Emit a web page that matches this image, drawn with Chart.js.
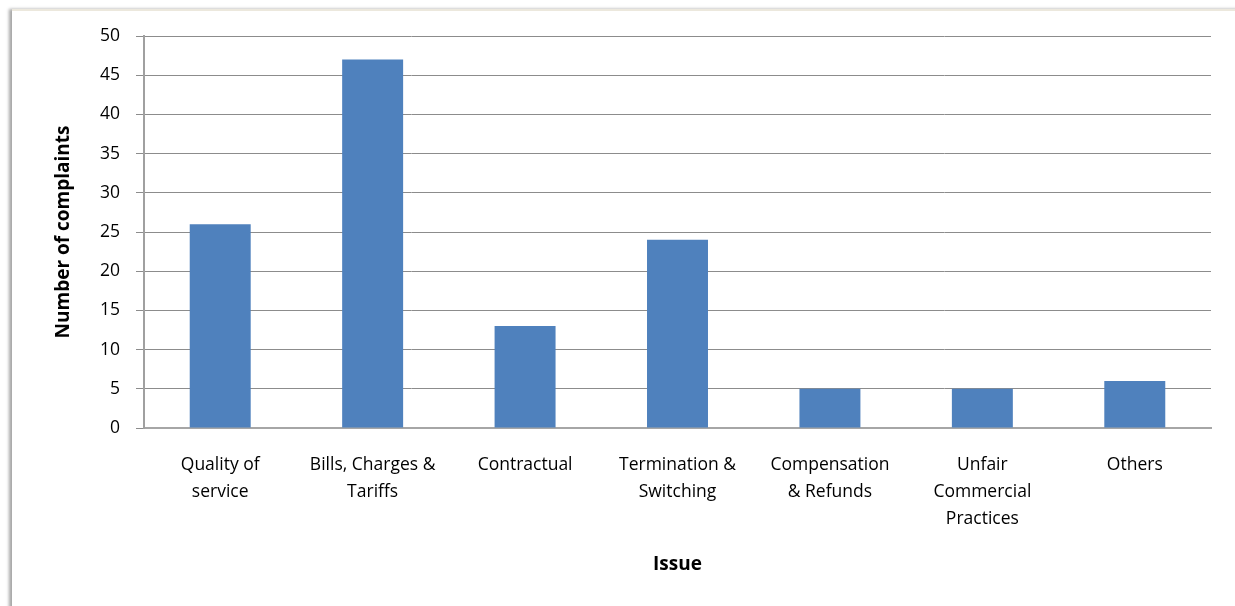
<!DOCTYPE html>
<html>
<head>
<meta charset="utf-8">
<title>Complaints by issue</title>
<script src="https://cdn.jsdelivr.net/npm/chart.js@4/dist/chart.umd.min.js"></script>
<style>
  html, body { margin: 0; padding: 0; background: #fff; overflow: hidden; }
  #wrap { position: relative; width: 1235px; height: 606px; overflow: hidden; }
  /* sheet edge behind the chart */
  #frame {
    position: absolute; left: 12px; top: 9px; right: -10px; bottom: -10px;
    border-top: 2px solid #ECE8DD;
    box-shadow: -3px 0 3px rgba(0,0,0,0.35);
    background: #fff;
  }
  #chart { position: absolute; left: 0; top: 0; }
</style>
</head>
<body>
<div id="wrap">
  <div id="frame"></div>
  <canvas id="chart" width="1235" height="606"></canvas>
</div>
<script>
// ----------------------
// Data
// ----------------------
const issues = [
  ["Quality of", "service"],
  ["Bills, Charges &", "Tariffs"],
  "Contractual",
  ["Termination &", "Switching"],
  ["Compensation", "& Refunds"],
  ["Unfair", "Commercial", "Practices"],
  "Others"
];
const complaints = [26, 47, 13, 24, 5, 5, 6];
const yTicks = [0, 5, 10, 15, 20, 25, 30, 35, 40, 45, 50];

const FONT = "'Open Sans', Lato, sans-serif";
Chart.defaults.font.family = FONT;
Chart.defaults.color = "#000";

// ----------------------
// Chart
// ----------------------
const ctx = document.getElementById("chart").getContext("2d");
new Chart(ctx, {
  type: "bar",
  data: {
    labels: issues,
    datasets: [{
      label: "Number of complaints",
      data: complaints,
      backgroundColor: "#4F81BD",
      borderWidth: 0,
      categoryPercentage: 1.0,
      barPercentage: 0.4
    }]
  },
  options: {
    responsive: false,
    animation: false,
    layout: { padding: { left: 48, right: 24, top: 36, bottom: 26 } },
    plugins: { legend: { display: false }, tooltip: { enabled: false } },
    scales: {
      x: {
        grid: { display: false, drawTicks: false },
        border: { color: "#A6A6A6", width: 2 },
        ticks: {
          font: { size: 17.5, lineHeight: 1.55 },
          color: "#000",
          padding: 23,
          maxRotation: 0,
          autoSkip: false
        },
        title: {
          display: true,
          text: "Issue",
          font: { size: 19, weight: "bold" },
          color: "#000",
          padding: 4
        },
        afterFit: s => { s.height = 152; }
      },
      y: {
        min: 0,
        max: 50,
        afterBuildTicks: s => { s.ticks = yTicks.map(v => ({ value: v })); },
        grid: { color: "#8C8C8C", lineWidth: 1, tickLength: 8 },
        border: { color: "#A0A0A0", width: 2 },
        ticks: { font: { size: 17.5 }, color: "#000", padding: 16 },
        title: {
          display: true,
          text: "Number of complaints",
          font: { size: 19, weight: "bold" },
          color: "#000",
          padding: 4
        },
        afterFit: s => { s.width = 96; }
      }
    }
  }
});
</script>
</body>
</html>
